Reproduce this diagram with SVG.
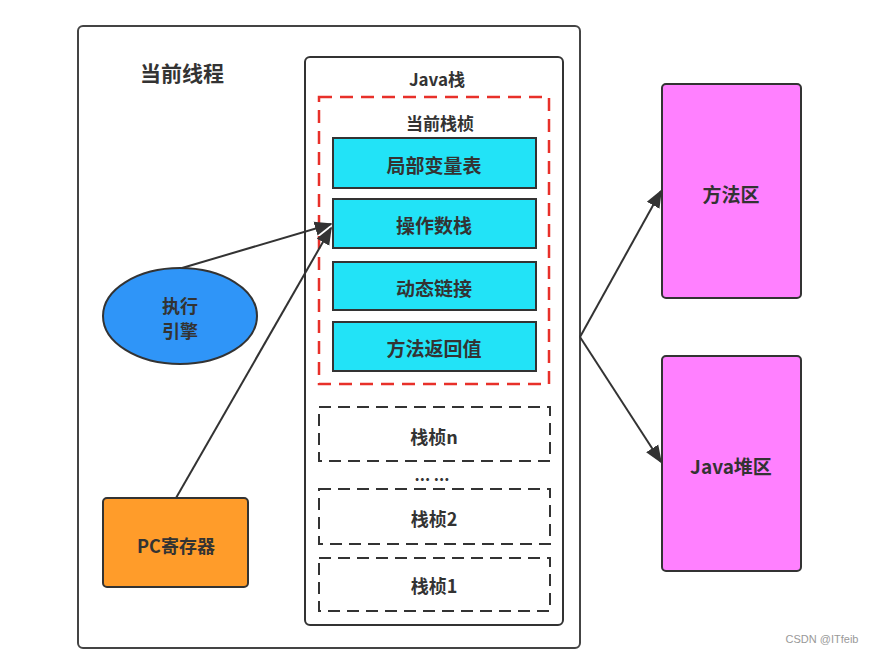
<svg xmlns="http://www.w3.org/2000/svg" width="870" height="657" viewBox="0 0 870 657">
<defs>
<style>
.t{font-family:"Noto Sans CJK SC","Noto Sans",sans-serif;font-weight:bold;fill:#333;text-anchor:middle;dominant-baseline:central}
.box{stroke:#333;stroke-width:2}
.dash{fill:none;stroke:#333;stroke-width:2;stroke-dasharray:12 7}
.conn{fill:none;stroke:#333;stroke-width:2}
</style>
<marker id="ah2" viewBox="0 0 10 10" refX="9" refY="5" markerWidth="18" markerHeight="18" markerUnits="userSpaceOnUse" orient="auto">
<path d="M0,1 L10,5 L0,9 z" fill="#333"/>
</marker>
</defs>
<rect width="870" height="657" fill="#fff"/>
<g id="thread">
<rect x="78" y="26" width="502" height="622" rx="5" fill="#fff" stroke="#444" stroke-width="2"/>
<text class="t" x="182" y="72" font-size="21">当前线程</text>
</g>
<g id="java-stack">
<rect x="305" y="57" width="258" height="568" rx="5" fill="#fff" stroke="#333" stroke-width="2"/>
<text class="t" x="437" y="78" font-size="17">Java栈</text>
</g>
<g id="current-frame">
<rect x="319" y="97" width="230" height="287" fill="none" stroke="#e8302a" stroke-width="2.5" stroke-dasharray="13 8"/>
<text class="t" x="440" y="122" font-size="17">当前栈桢</text>
</g>
<g id="local-vars">
<rect class="box" x="333" y="138" width="203" height="50" fill="#22e3f7"/>
<text class="t" x="434" y="164" font-size="19">局部变量表</text>
</g>
<g id="operand-stack">
<rect class="box" x="333" y="199" width="203" height="49" fill="#22e3f7"/>
<text class="t" x="434" y="224" font-size="19">操作数栈</text>
</g>
<g id="dynamic-link">
<rect class="box" x="333" y="262" width="203" height="48" fill="#22e3f7"/>
<text class="t" x="434" y="287" font-size="19">动态链接</text>
</g>
<g id="return-addr">
<rect class="box" x="333" y="322" width="203" height="49" fill="#22e3f7"/>
<text class="t" x="434" y="347" font-size="19">方法返回值</text>
</g>
<g id="frame-n">
<rect class="dash" x="319" y="407" width="231" height="54"/>
<text class="t" x="434" y="436" font-size="18">栈桢n</text>
</g>
<g id="ellipsis">
<text class="t" x="432" y="474" font-size="16">... ...</text>
</g>
<g id="frame-2">
<rect class="dash" x="319" y="489" width="231" height="55"/>
<text class="t" x="434" y="518" font-size="18">栈桢2</text>
</g>
<g id="frame-1">
<rect class="dash" x="319" y="558" width="231" height="53"/>
<text class="t" x="434" y="585" font-size="18">栈桢1</text>
</g>
<g id="engine">
<ellipse cx="180" cy="316" rx="77" ry="48" fill="#2f95f8" stroke="#333" stroke-width="2"/>
<text class="t" x="180" y="305" font-size="18">执行</text>
<text class="t" x="180" y="330" font-size="18">引擎</text>
</g>
<g id="pc">
<rect class="box" x="103" y="498" width="145" height="89" rx="4" fill="#ff9c2a"/>
<text class="t" x="176" y="545" font-size="18">PC寄存器</text>
</g>
<g id="method-area">
<rect class="box" x="662" y="84" width="139" height="214" rx="4" fill="#ff80ff"/>
<text class="t" x="731" y="193" font-size="19">方法区</text>
</g>
<g id="heap">
<rect class="box" x="662" y="356" width="139" height="215" rx="4" fill="#ff80ff"/>
<text class="t" x="731" y="465" font-size="19">Java堆区</text>
</g>
<g id="connectors">
<line class="conn" x1="182" y1="268" x2="331" y2="224" marker-end="url(#ah2)"/>
<line class="conn" x1="176" y1="498" x2="331" y2="228" marker-end="url(#ah2)"/>
<line class="conn" x1="580" y1="337" x2="661" y2="191" marker-end="url(#ah2)"/>
<line class="conn" x1="580" y1="337" x2="661" y2="462" marker-end="url(#ah2)"/>
</g>
<text x="822" y="643" font-family="Liberation Sans, sans-serif" font-size="11" fill="#999" text-anchor="middle">CSDN @ITfeib</text>
</svg>
